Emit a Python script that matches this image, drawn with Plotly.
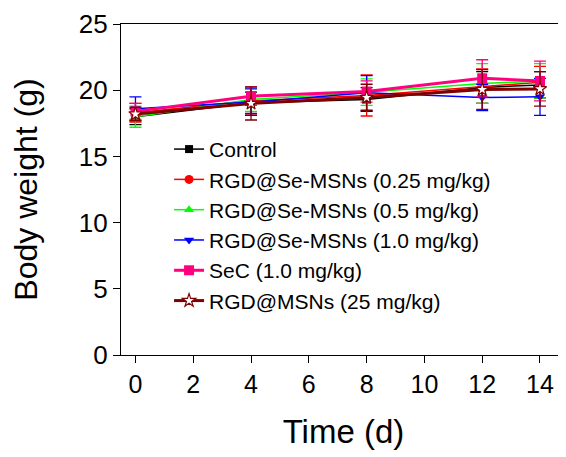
import plotly.graph_objects as go

days = [0, 4, 8, 12, 14]

names = [
    "Control",
    "RGD@Se-MSNs (0.25 mg/kg)",
    "RGD@Se-MSNs (0.5 mg/kg)",
    "RGD@Se-MSNs (1.0 mg/kg)",
    "SeC (1.0 mg/kg)",
    "RGD@MSNs (25 mg/kg)",
]

control = [18.0, 19.05, 19.3, 20.2, 20.4]
se_025 = [18.3, 19.2, 19.6, 20.3, 20.6]
se_05 = [18.0, 19.3, 19.85, 20.5, 20.7]
se_10 = [18.6, 19.1, 19.8, 19.45, 19.5]
sec_10 = [18.4, 19.55, 19.9, 20.9, 20.7]
msn_25 = [18.2, 19.0, 19.45, 20.05, 20.1]

control_sd = [0.6, 0.8, 0.9, 1.2, 1.0]
se_025_sd = [0.7, 1.0, 1.55, 1.3, 1.2]
se_05_sd = [0.8, 0.9, 1.0, 1.5, 1.3]
se_10_sd = [0.9, 1.0, 1.3, 1.0, 1.4]
sec_10_sd = [0.6, 0.7, 0.8, 1.4, 1.5]
msn_25_sd = [0.5, 1.25, 1.0, 1.5, 1.3]

series = [control, se_025, se_05, se_10, sec_10, msn_25]
errors = [control_sd, se_025_sd, se_05_sd, se_10_sd, sec_10_sd, msn_25_sd]

colors = ["#000000", "#FF0000", "#00FF00", "#0000FF", "#FF0080", "#800000"]
symbols = ["square", "circle", "triangle-up", "triangle-down", "square", "star"]
widths = [1.5, 1.5, 1.5, 1.5, 3, 3]
msizes = [8, 9, 9, 9, 10, 10]

FONT = "Arial, Liberation Sans, sans-serif"

fig = go.Figure()
for name, y, e, c, s, w, ms in zip(names, series, errors, colors, symbols, widths, msizes):
    if s == "star":
        marker = dict(symbol=s, size=ms, color="white", line=dict(color=c, width=1.2))
    else:
        marker = dict(symbol=s, size=ms, color=c, line=dict(width=0))
    fig.add_trace(go.Scatter(
        x=days, y=y, name=name, mode="lines+markers",
        line=dict(color=c, width=w),
        marker=marker,
        error_y=dict(type="data", array=e, visible=True, color=c, thickness=1.3, width=6),
    ))

# page body has an 8px default margin, so the figure is sized to fit the window
fig.update_layout(
    width=558, height=449,
    margin=dict(l=113, r=0, t=16, b=102),
    paper_bgcolor="white", plot_bgcolor="white",
    font=dict(family=FONT, color="black"),
    showlegend=True,
    legend=dict(
        x=0.108, y=0.683, xanchor="left", yanchor="top",
        bgcolor="rgba(0,0,0,0)", borderwidth=0,
        font=dict(family=FONT, size=21, color="black"),
        tracegroupgap=0, itemwidth=30,
    ),
    xaxis=dict(
        range=[-0.5, 14.9], tickvals=[0, 2, 4, 6, 8, 10, 12, 14],
        showline=True, linecolor="black", linewidth=1.3, mirror=True,
        ticks="outside", ticklen=7, tickwidth=1.3, tickcolor="black",
        showgrid=False, zeroline=False, automargin=False,
        tickfont=dict(family=FONT, size=25),
        title=dict(text="Time (d)", font=dict(family=FONT, size=33), standoff=22),
    ),
    yaxis=dict(
        range=[0, 25], tickvals=[0, 5, 10, 15, 20, 25],
        showline=True, linecolor="black", linewidth=1.3,
        ticks="outside", ticklen=7, tickwidth=1.3, tickcolor="black",
        showgrid=False, zeroline=False, automargin=False,
        tickfont=dict(family=FONT, size=26),
        title=dict(text="Body weight (g)", font=dict(family=FONT, size=32), standoff=32),
    ),
)

fig.write_html("out.html")
